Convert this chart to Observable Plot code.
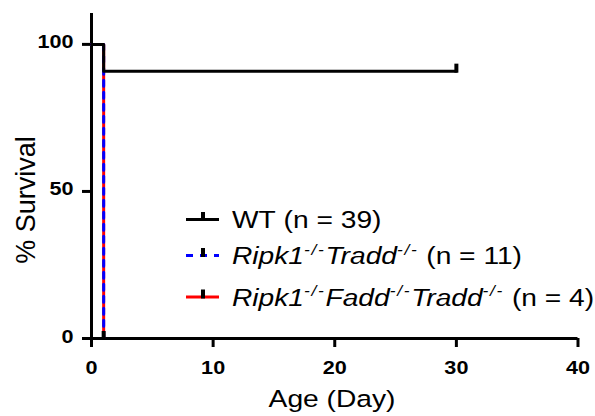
<!DOCTYPE html>
<html><head><meta charset="utf-8">
<script src="https://cdn.jsdelivr.net/npm/d3@7"></script>
<script src="https://cdn.jsdelivr.net/npm/@observablehq/plot@0.6"></script>
<style>
html,body{margin:0;padding:0;background:#fff;}
svg{font-family:"Liberation Sans",Arial,sans-serif;}
</style></head><body><div id="chart"></div>
<script>
// ---- data ----
const seriesNames = ["WT", "Ripk1-/-Tradd-/-", "Ripk1-/-Fadd-/-Tradd-/-"];
const seriesN = [39, 11, 4];
const seriesColors = ["#000000", "#0000ff", "#ff0000"];
const wtDays = [0, 1, 30];
const wtSurvival = [100, 90.9, 90.9];
const rtDays = [0, 1];
const rtSurvival = [100, 0];
const rftDays = [0, 1];
const rftSurvival = [100, 0];
const censorDays = [30, 1];
const censorSurvival = [90.9, 0];
const xTicks = [0, 10, 20, 30, 40];
const yTicks = [0, 50, 100];
const xLabel = "Age (Day)";
const yLabel = "% Survival";

const toRows = (xs, ys) => xs.map((d, i) => ({day: d, surv: ys[i]}));
const wt = toRows(wtDays, wtSurvival);
const rt = toRows(rtDays, rtSurvival);
const rft = toRows(rftDays, rftSurvival);
const censor = toRows(censorDays, censorSurvival);

const censorSymbol = {draw(ctx) { ctx.moveTo(-2, -7.5); ctx.lineTo(2, -7.5); ctx.lineTo(2, 1.5); ctx.lineTo(-2, 1.5); ctx.closePath(); }};

const plot = Plot.plot({
  width: 595, height: 416,
  marginLeft: 91, marginRight: 17.5, marginTop: 13, marginBottom: 78,
  x: {domain: [0, 40]},
  y: {domain: [0, 110.5]},
  style: {fontFamily: "'Liberation Sans', Arial, sans-serif", background: "white", color: "black", overflow: "visible"},
  marks: [
    Plot.axisX({ticks: xTicks, tickSize: 9, tickPadding: 16, strokeWidth: 3, fontSize: 18, fontWeight: "bold", label: null}),
    Plot.axisY({ticks: yTicks, tickSize: 9, tickPadding: 9, strokeWidth: 3, fontSize: 18, fontWeight: "bold", label: null}),
    Plot.ruleY([0], {strokeWidth: 3, insetLeft: -9}),
    Plot.ruleX([0], {strokeWidth: 3, insetBottom: -9}),
    Plot.line(rft, {x: "day", y: "surv", curve: "step-after", stroke: seriesColors[2], strokeWidth: 3}),
    Plot.line(rt, {x: "day", y: "surv", curve: "step-after", stroke: seriesColors[1], strokeWidth: 3, strokeDasharray: "6,6"}),
    Plot.line(wt, {x: "day", y: "surv", curve: "step-after", stroke: seriesColors[0], strokeWidth: 3}),
    Plot.dot(censor, {x: "day", y: "surv", symbol: censorSymbol, fill: "black", stroke: "none"})
  ]
});
document.getElementById("chart").appendChild(plot);

// horizontal stretch of tick labels (reference glyphs are wide) + small vertical nudge
const nudge = {x: 10, y: 4};
plot.querySelectorAll('g[aria-label$="tick label"] text').forEach(t => {
  const isX = t.closest('g').getAttribute("aria-label").startsWith("x");
  const tr = t.getAttribute("transform") || "";
  const x = +t.getAttribute("x") || 0, y = +t.getAttribute("y") || 0;
  t.removeAttribute("x"); t.removeAttribute("y");
  t.setAttribute("transform", `${tr} translate(${x},${y + (isX ? nudge.x : nudge.y)}) scale(1.2,1)`);
});

const svg = d3.select(plot);
// axis titles
svg.append("text").attr("transform", "translate(332,407) scale(1.2,1)")
  .attr("text-anchor", "middle").attr("font-size", 23.5).attr("fill", "black").text(xLabel);
svg.append("text").attr("transform", "translate(35,200) rotate(-90)")
  .attr("text-anchor", "middle").attr("font-size", 27).attr("fill", "black").text(yLabel);

// legend
const legendRows = [
  [{t: "WT"}, {t: " (n = " + seriesN[0] + ")"}],
  [{t: "Ripk1", i: 1}, {t: "-/-", i: 1, s: 1}, {t: "Tradd", i: 1}, {t: "-/-", i: 1, s: 1}, {t: " (n = " + seriesN[1] + ")"}],
  [{t: "Ripk1", i: 1}, {t: "-/-", i: 1, s: 1}, {t: "Fadd", i: 1}, {t: "-/-", i: 1, s: 1}, {t: "Tradd", i: 1}, {t: "-/-", i: 1, s: 1}, {t: " (n = " + seriesN[2] + ")"}]
];
const legendY = [219.5, 255.5, 297];
const lg = svg.append("g").attr("aria-label", "legend").attr("text-anchor", "start");
legendRows.forEach((row, k) => {
  const y = legendY[k];
  lg.append("line").attr("x1", 186).attr("x2", 219).attr("y1", y).attr("y2", y)
    .attr("stroke", seriesColors[k]).attr("stroke-width", 3)
    .attr("stroke-dasharray", k === 1 ? "7,7" : null);
  lg.append("rect").attr("x", 201).attr("y", y - 7.5).attr("width", 4).attr("height", 9).attr("fill", "black");
  const txt = lg.append("text").attr("transform", `translate(232,${y + 8.5}) scale(1.15,1)`)
    .attr("text-anchor", "start").attr("font-size", 24.5).attr("fill", "black");
  row.forEach(seg => {
    const ts = txt.append("tspan").text(seg.t.replace(/ /g, "\u00a0"));
    if (seg.i) ts.attr("font-style", "italic");
    if (seg.s) ts.attr("font-size", 15).attr("letter-spacing", 1.5).attr("baseline-shift", "9");
  });
});
</script></body></html>
